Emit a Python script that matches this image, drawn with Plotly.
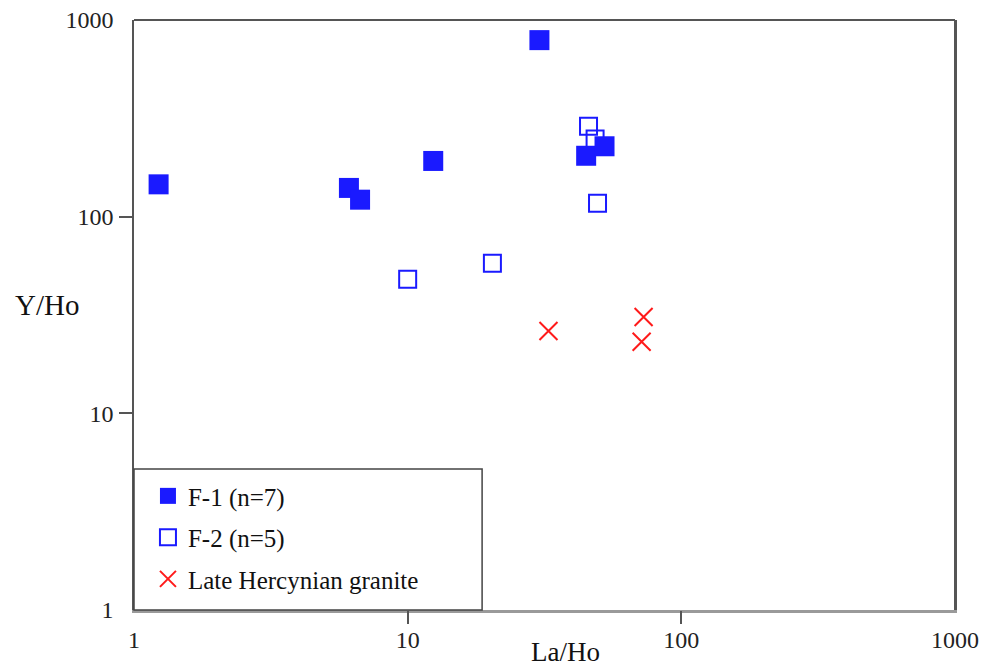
import plotly.graph_objects as go

# ---- data ----
f1_label = "F-1 (n=7)"
f1_la_ho = [1.23, 6.1, 6.7, 12.4, 30.3, 44.9, 52.4]
f1_y_ho = [146, 140, 122, 192, 790, 204, 228]

f2_label = "F-2 (n=5)"
f2_la_ho = [10.0, 20.4, 45.8, 48.4, 49.4]
f2_y_ho = [48, 58, 288, 248, 117]

lh_label = "Late Hercynian granite"
lh_la_ho = [32.7, 72.8, 71.6]
lh_y_ho = [26.2, 30.9, 23.1]

tick_vals = [1, 10, 100, 1000]
tick_text = ["1", "10", "100", "1000"]
inner_ticks = [10, 100]

FONT = "Liberation Serif, Times New Roman, serif"
BLUE = "#1a1aff"
RED = "#ff1a1a"

fig = go.Figure()

fig.add_trace(go.Scatter(
    x=f2_la_ho, y=f2_y_ho, mode="markers", name=f2_label,
    legendgroup="g2", legendrank=2,
    marker=dict(symbol="square-open", size=17, color=BLUE, line=dict(width=2, color=BLUE)),
))
fig.add_trace(go.Scatter(
    x=f1_la_ho, y=f1_y_ho, mode="markers", name=f1_label,
    legendgroup="g1", legendrank=1,
    marker=dict(symbol="square", size=20, color=BLUE, line=dict(width=0)),
))
fig.add_trace(go.Scatter(
    x=lh_la_ho, y=lh_y_ho, mode="markers", name=lh_label,
    legendgroup="g3", legendrank=3,
    marker=dict(symbol="x-thin-open", size=18, color=RED, line=dict(width=2, color=RED)),
))
# empty trace to carry the tick-only overlay axes
fig.add_trace(go.Scatter(x=[], y=[], xaxis="x2", yaxis="y2", showlegend=False, hoverinfo="skip"))

axis_common = dict(type="log", range=[0, 3], showgrid=False, zeroline=False, automargin=False)

fig.update_layout(
    width=981, height=662,
    margin=dict(l=126, r=34, t=12, b=60, autoexpand=False),
    paper_bgcolor="white", plot_bgcolor="white",
    font=dict(family=FONT, color="#222222"),
    showlegend=True,
    xaxis=dict(**axis_common, tickmode="array", tickvals=tick_vals, ticktext=tick_text,
               ticks="outside", ticklen=6, tickcolor="rgba(0,0,0,0)",
               ticklabeloverflow="allow",
               tickfont=dict(family=FONT, size=24, color="#222222"),
               showline=True, linecolor="#9a9a9a", linewidth=2.5),
    yaxis=dict(**axis_common, tickmode="array", tickvals=tick_vals, ticktext=tick_text,
               ticks="outside", ticklen=14, tickcolor="rgba(0,0,0,0)",
               ticklabeloverflow="allow",
               tickfont=dict(family=FONT, size=24, color="#222222"),
               showline=True, linecolor="#555555", linewidth=1.5, mirror=True),
    xaxis2=dict(**axis_common, overlaying="x", anchor="y2", side="bottom",
                tickmode="array", tickvals=inner_ticks, ticks="outside", ticklen=13,
                tickwidth=1.5, tickcolor="#555555", showticklabels=False, showline=False),
    yaxis2=dict(**axis_common, overlaying="y", anchor="x2", side="left",
                tickmode="array", tickvals=inner_ticks, ticks="outside", ticklen=14,
                tickwidth=1.5, tickcolor="#555555", showticklabels=False, showline=False),
    legend=dict(
        x=0.017, y=0.232, xanchor="left", yanchor="top",
        bgcolor="rgba(0,0,0,0)", borderwidth=0,
        font=dict(family=FONT, size=25, color="#111111"),
        traceorder="grouped", tracegroupgap=6,
    ),
    shapes=[
        dict(type="line", xref="paper", yref="paper", x0=0, x1=1, y0=1, y1=1,
             line=dict(color="#555555", width=2)),
        dict(type="line", xref="paper", yref="paper", x0=1, x1=1, y0=0, y1=1,
             line=dict(color="#555555", width=2)),
        dict(type="rect", xref="paper", yref="paper", x0=0, x1=0.424, y0=0, y1=0.239,
             line=dict(color="#444444", width=1.5), fillcolor="rgba(0,0,0,0)"),
    ],
    annotations=[
        dict(text="Y/Ho", xref="paper", yref="paper", x=-0.1474, y=0.517,
             xanchor="left", yanchor="middle", showarrow=False,
             font=dict(family=FONT, size=29, color="#111111")),
        dict(text="La/Ho", xref="paper", yref="paper", x=0.526, y=-0.072,
             xanchor="center", yanchor="middle", showarrow=False,
             font=dict(family=FONT, size=27, color="#111111")),
    ],
)

fig.write_html("out.html")
